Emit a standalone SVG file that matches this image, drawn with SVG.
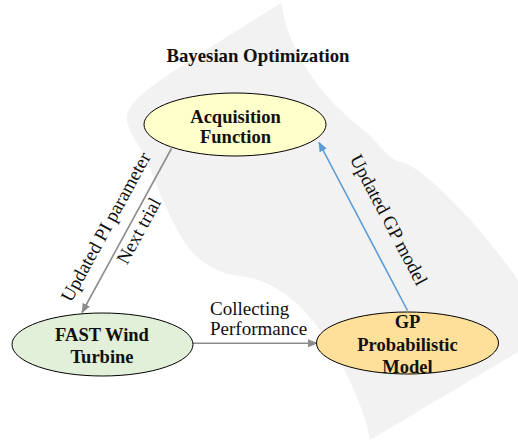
<svg xmlns="http://www.w3.org/2000/svg" width="518" height="442" viewBox="0 0 518 442">
<style>
.node{stroke:#000;stroke-width:1}
.nt{font-family:"Liberation Serif","Times New Roman",serif;font-weight:bold;font-size:18.5px;fill:#111;text-anchor:middle}
.lbl{font-family:"Liberation Serif","Times New Roman",serif;font-size:19px;fill:#111}
.ttl{font-family:"Liberation Serif","Times New Roman",serif;font-weight:bold;font-size:18.8px;fill:#111;text-anchor:middle}
.gray{stroke:#8c8c8c;stroke-width:1.6;fill:none}
.blue{stroke:#5b9bd5;stroke-width:1.6;fill:none}
</style>
<defs>
<marker id="ahg" markerUnits="userSpaceOnUse" markerWidth="10" markerHeight="8" refX="9" refY="4" orient="auto">
<path d="M0,0 L10,4 L0,8 Z" fill="#8c8c8c"/>
</marker>
<marker id="ahb" markerUnits="userSpaceOnUse" markerWidth="10" markerHeight="8" refX="9" refY="4" orient="auto">
<path d="M0,0 L10,4 L0,8 Z" fill="#5b9bd5"/>
</marker>
</defs>
<rect width="518" height="442" fill="#ffffff"/>
<path id="background" fill="#f2f2f2" d="M282,3 C272,8 230,35 180,67 C160,80 130,100 127,115 C125,125 135,140 143,152 C150,165 160,200 183,240 C195,258 210,268 225,273 C235,276 245,276 255,279 C285,288 305,310 320,330 C345,365 365,410 370,440 L518,352 L518,280 C500,255 470,215 432,182 C420,172 410,163 400,162 C390,160 380,145 367,133 C345,115 320,95 300,57 C290,40 282,15 282,3 Z"/>
<text class="ttl" x="258" y="62">Bayesian Optimization</text>
<g id="connectors">
<line class="gray" x1="171.5" y1="148.5" x2="82" y2="312.5" marker-end="url(#ahg)"/>
<line class="gray" x1="193" y1="343.3" x2="317" y2="343.3" marker-end="url(#ahg)"/>
<line class="blue" x1="407.5" y1="310.5" x2="319" y2="142.5" marker-end="url(#ahb)"/>
<text class="lbl" text-anchor="middle" transform="translate(106,227) rotate(-61.4)" x="0" y="6">Updated PI parameter</text>
<text class="lbl" text-anchor="middle" transform="translate(139,231) rotate(-61.4)" x="0" y="6">Next trial</text>
<text class="lbl" text-anchor="middle" transform="translate(388.5,220) rotate(62.2)" x="0" y="6">Updated GP model</text>
<text class="lbl" x="210" y="314.5">Collecting</text>
<text class="lbl" x="210" y="335">Performance</text>
</g>
<g id="acquisition">
<ellipse class="node" cx="235" cy="124.5" rx="91" ry="31.5" fill="#ffffcc"/>
<text class="nt" x="235.5" y="123">Acquisition</text>
<text class="nt" x="235.5" y="143">Function</text>
</g>
<g id="fast">
<ellipse class="node" cx="102.5" cy="344.5" rx="90.5" ry="31.5" fill="#e2efd9"/>
<text class="nt" x="102" y="341">FAST Wind</text>
<text class="nt" x="102" y="363">Turbine</text>
</g>
<g id="gp">
<ellipse class="node" cx="407.5" cy="343" rx="91" ry="31" fill="#ffe09b"/>
<text class="nt" x="407.5" y="328">GP</text>
<text class="nt" x="407.5" y="350.5">Probabilistic</text>
<text class="nt" x="407.5" y="373">Model</text>
</g>
</svg>
